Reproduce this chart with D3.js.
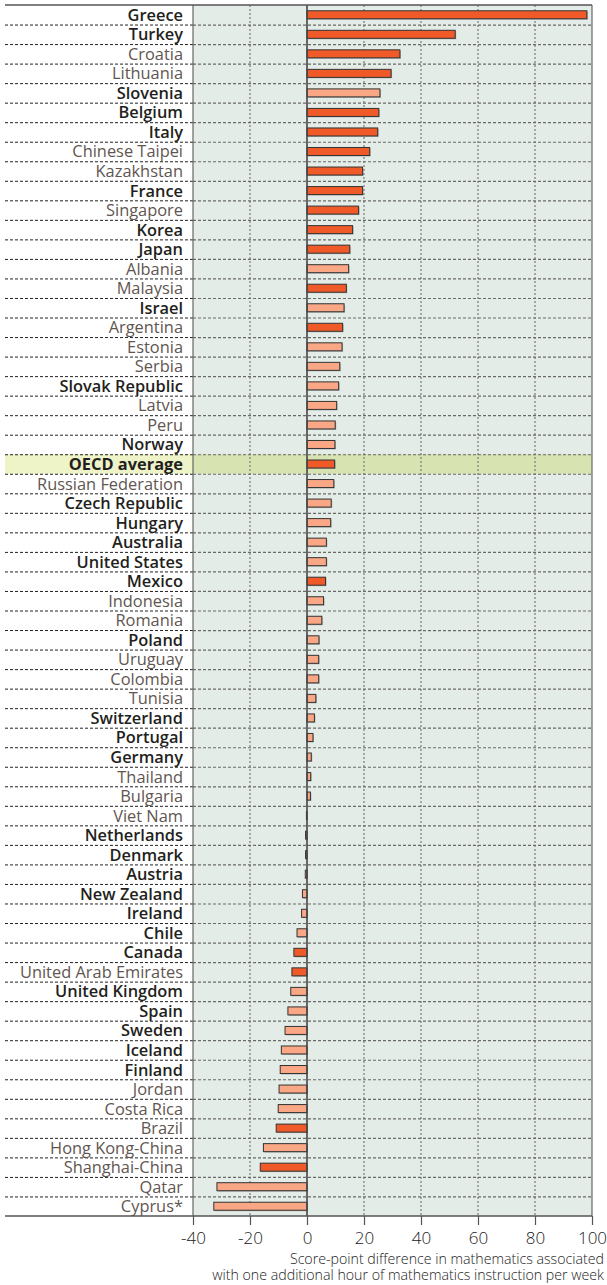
<!DOCTYPE html>
<html>
<head>
<meta charset="utf-8">
<script src="https://cdn.jsdelivr.net/npm/d3@7"></script>
<style>
  body { margin: 0; background: #fff; }
  svg { display: block; }
  .label { font-family: "Open Sans", Lato, sans-serif; font-size: 16.4px; }
  .tick text { font-family: "Open Sans", Lato, sans-serif; font-size: 17px; font-weight: 300; fill: #222; }
  .title { font-family: "Open Sans", Lato, sans-serif; font-size: 14.2px; font-weight: 300; fill: #222; }
</style>
</head>
<body>
<svg id="chart"></svg>
<script>
const countries = [
  'Greece', 'Turkey', 'Croatia', 'Lithuania', 'Slovenia', 'Belgium', 'Italy',
  'Chinese Taipei', 'Kazakhstan', 'France', 'Singapore', 'Korea', 'Japan',
  'Albania', 'Malaysia', 'Israel', 'Argentina', 'Estonia', 'Serbia',
  'Slovak Republic', 'Latvia', 'Peru', 'Norway', 'OECD average',
  'Russian Federation', 'Czech Republic', 'Hungary', 'Australia',
  'United States', 'Mexico', 'Indonesia', 'Romania', 'Poland', 'Uruguay',
  'Colombia', 'Tunisia', 'Switzerland', 'Portugal', 'Germany', 'Thailand',
  'Bulgaria', 'Viet Nam', 'Netherlands', 'Denmark', 'Austria', 'New Zealand',
  'Ireland', 'Chile', 'Canada', 'United Arab Emirates', 'United Kingdom',
  'Spain', 'Sweden', 'Iceland', 'Finland', 'Jordan', 'Costa Rica', 'Brazil',
  'Hong Kong-China', 'Shanghai-China', 'Qatar', 'Cyprus*'
];

const values = [
  98.2, 52.0, 32.6, 29.5, 25.6, 25.2, 24.8,
  22.0, 19.5, 19.5, 18.1, 16.0, 15.0,
  14.6, 13.8, 13.0, 12.5, 12.3, 11.5,
  11.1, 10.4, 9.9, 9.8, 9.7,
  9.4, 8.5, 8.3, 6.8,
  6.8, 6.5, 5.8, 5.2, 4.2, 4.1,
  4.1, 3.1, 2.6, 2.1, 1.5, 1.3,
  1.2, -0.2, -0.5, -0.5, -0.6, -1.6,
  -1.9, -3.5, -4.6, -5.3, -5.7,
  -6.7, -7.7, -9.0, -9.4, -9.8, -10.1, -10.8,
  -15.3, -16.4, -31.6, -32.7
];

// statistically significant differences (darker bars)
const significant = [
  'Greece', 'Turkey', 'Croatia', 'Lithuania', 'Belgium', 'Italy',
  'Chinese Taipei', 'Kazakhstan', 'France', 'Singapore', 'Korea', 'Japan',
  'Malaysia', 'Argentina', 'OECD average', 'Mexico', 'Canada',
  'United Arab Emirates', 'Brazil', 'Shanghai-China'
];

// labels in black (the rest are grey)
const oecd = [
  'Greece', 'Turkey', 'Slovenia', 'Belgium', 'Italy', 'France', 'Korea',
  'Japan', 'Israel', 'Slovak Republic', 'Norway', 'OECD average',
  'Czech Republic', 'Hungary', 'Australia', 'United States', 'Mexico',
  'Poland', 'Switzerland', 'Portugal', 'Germany', 'Netherlands', 'Denmark',
  'Austria', 'New Zealand', 'Ireland', 'Chile', 'Canada', 'United Kingdom',
  'Spain', 'Sweden', 'Iceland', 'Finland'
];

const xTicks = [-40, -20, 0, 20, 40, 60, 80, 100];
const titleLines = [
  'Score-point difference in mathematics associated',
  'with one additional hour of mathematics instruction per week'
];

const width = 607, height = 1285;
const marginLeft = 5, plotLeft = 193, plotRight = 592, plotTop = 5, plotBottom = 1216;
const labelX = 183;

const svg = d3.select('#chart').attr('width', width).attr('height', height);

const x = d3.scaleLinear().domain([-40, 100]).range([plotLeft, plotRight]);
const y = d3.scaleBand().domain(countries).range([plotTop, plotBottom]);
const barH = 8;

// plot background
svg.append('rect')
  .attr('x', plotLeft).attr('y', plotTop)
  .attr('width', plotRight - plotLeft).attr('height', plotBottom - plotTop)
  .attr('fill', '#e4ece7');

// OECD average highlight
const avg = 'OECD average';
svg.append('rect')
  .attr('x', marginLeft).attr('y', y(avg))
  .attr('width', plotLeft - marginLeft).attr('height', y.bandwidth())
  .attr('fill', '#eef3c8');
svg.append('rect')
  .attr('x', plotLeft).attr('y', y(avg))
  .attr('width', plotRight - plotLeft).attr('height', y.bandwidth())
  .attr('fill', '#d8e3b2');

// vertical dashed grid
svg.append('g')
  .selectAll('line')
  .data(xTicks.filter(d => d !== -40 && d !== 0 && d !== 100))
  .enter()
  .append('line')
  .attr('x1', d => x(d)).attr('x2', d => x(d))
  .attr('y1', plotTop).attr('y2', plotBottom)
  .attr('stroke', '#7a7a7a')
  .attr('stroke-width', 1.2)
  .attr('stroke-dasharray', '2,2');

// horizontal row separators
const seps = countries.slice(1);
svg.append('g')
  .selectAll('line')
  .data(seps)
  .enter()
  .append('line')
  .attr('x1', marginLeft).attr('x2', plotLeft)
  .attr('y1', d => y(d) + 0.5).attr('y2', d => y(d) + 0.5)
  .attr('stroke', '#222')
  .attr('stroke-dasharray', '3,2');
svg.append('g')
  .selectAll('line')
  .data(seps)
  .enter()
  .append('line')
  .attr('x1', plotLeft).attr('x2', plotRight)
  .attr('y1', d => y(d) + 0.5).attr('y2', d => y(d) + 0.5)
  .attr('stroke', '#6a6a6a')
  .attr('stroke-width', 1.2)
  .attr('stroke-dasharray', '3,2');

// bars (with a small grey shadow)
const bars = svg.append('g');
countries.forEach((c, i) => {
  const v = values[i];
  const x0 = x(Math.min(0, v)), w = Math.abs(x(v) - x(0));
  const yc = y(c) + y.bandwidth() / 2 - barH / 2;
  bars.append('rect')
    .attr('x', x0 + 1).attr('y', yc + 1)
    .attr('width', w).attr('height', barH)
    .attr('fill', '#8a8a8a').attr('opacity', 0.6);
  bars.append('rect')
    .attr('x', x0).attr('y', yc)
    .attr('width', w).attr('height', barH)
    .attr('fill', significant.includes(c) ? '#f05a28' : '#f9a784')
    .attr('stroke', '#333')
    .attr('stroke-width', 1);
});

// solid vertical lines: borders and zero
[[-40, '#666', 1.2], [100, '#666', 1.2], [0, '#444', 1.6]].forEach(([v, col, sw]) => {
  svg.append('line')
    .attr('x1', x(v)).attr('x2', x(v))
    .attr('y1', plotTop).attr('y2', plotBottom)
    .attr('stroke', col).attr('stroke-width', sw);
});

// top line
svg.append('line')
  .attr('x1', marginLeft).attr('x2', plotRight)
  .attr('y1', plotTop).attr('y2', plotTop)
  .attr('stroke', '#555').attr('stroke-width', 1.5);

// country labels
svg.append('g')
  .selectAll('text')
  .data(countries)
  .enter()
  .append('text')
  .attr('class', 'label')
  .attr('x', labelX)
  .attr('y', d => y(d) + y.bandwidth() / 2 + 6)
  .attr('text-anchor', 'end')
  .attr('font-weight', d => d === avg ? 700 : (oecd.includes(d) ? 600 : 400))
  .attr('fill', d => oecd.includes(d) ? '#231f20' : '#5f5651')
  .text(d => d);

// x axis (plain hyphen for negatives, as in the original)
const axis = svg.append('g')
  .attr('transform', `translate(0,${plotBottom})`)
  .call(d3.axisBottom(x).tickValues(xTicks).tickSize(9).tickPadding(7).tickFormat(d => String(d)));
axis.select('.domain').remove();
axis.selectAll('.tick line').attr('stroke', '#555').attr('stroke-width', 1.2);
axis.append('line')
  .attr('x1', marginLeft).attr('x2', plotRight)
  .attr('y1', 0).attr('y2', 0)
  .attr('stroke', '#555').attr('stroke-width', 1.5);

// axis title
svg.append('g')
  .selectAll('text')
  .data(titleLines)
  .enter()
  .append('text')
  .attr('class', 'title')
  .attr('x', 604)
  .attr('y', (d, i) => 1264 + i * 16)
  .attr('text-anchor', 'end')
  .text(d => d);
</script>
</body>
</html>
